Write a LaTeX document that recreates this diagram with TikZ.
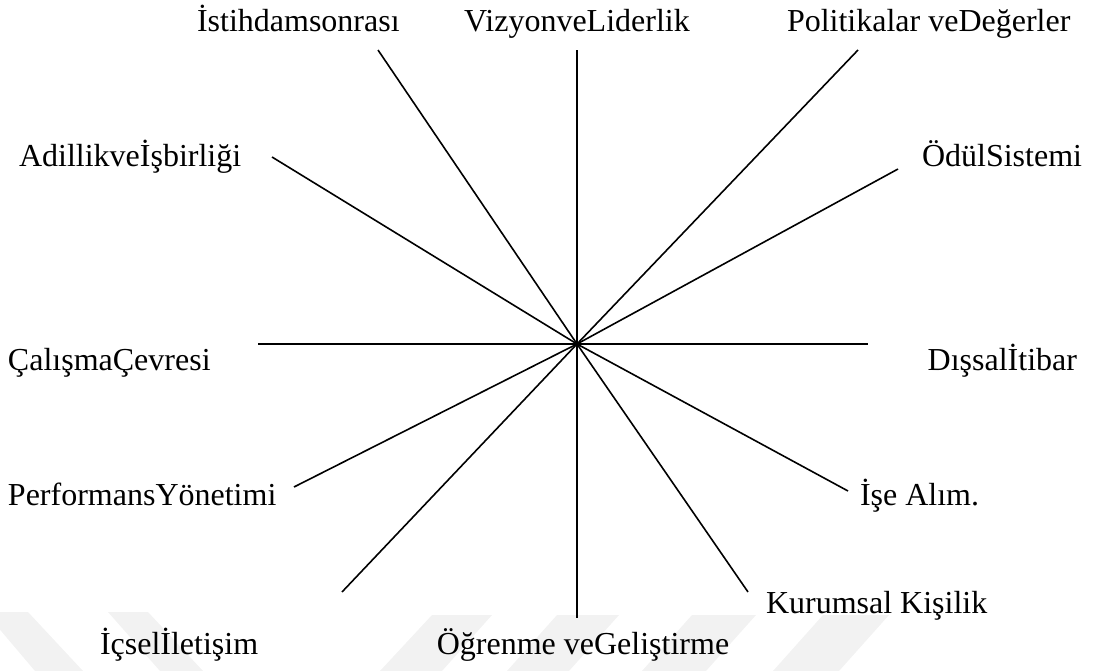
\documentclass[tikz,border=0pt]{standalone}
\usepackage{fontspec}
\setmainfont{Liberation Serif}
\begin{document}
\begin{tikzpicture}[x=1pt,y=-1pt,
  spoke/.style={line width=1.6pt, black, line cap=butt},
  lbl/.style={font=\fontsize{32}{36}\selectfont, inner sep=0pt, outer sep=0pt},
  wmband/.style={fill=black!5, draw=none}]
\useasboundingbox (0,0) rectangle (1094,671);

% faint chevron bands along the bottom edge
\begin{scope}
  \clip (0,0) rectangle (1094,671);
  \fill[wmband] (-15,612) -- (28,612) -- (83,671) -- (35,671) -- cycle;
  \fill[wmband] (108,612) -- (148,612) -- (203,671) -- (160,671) -- cycle;
  \fill[wmband] (432,615) -- (492,615) -- (442,671) -- (380,671) -- cycle;
  \fill[wmband] (557,615) -- (619,615) -- (569,671) -- (507,671) -- cycle;
  \fill[wmband] (692,615) -- (756,615) -- (706,671) -- (642,671) -- cycle;
  \fill[wmband] (823,615) -- (889,615) -- (839,671) -- (773,671) -- cycle;
\end{scope}

% hub and spoke ends
\coordinate (c) at (577,344);
\coordinate (eVizyon) at (577,50);
\coordinate (eIstihdam) at (378,50);
\coordinate (ePolitika) at (858,50);
\coordinate (eOdul) at (898,169);
\coordinate (eAdillik) at (272,157);
\coordinate (eCalisma) at (258,344);
\coordinate (eDissal) at (868,344);
\coordinate (ePerformans) at (294,487);
\coordinate (eIsealim) at (848,491);
\coordinate (eIcsel) at (342,592);
\coordinate (eKurumsal) at (748,592);
\coordinate (eOgrenme) at (577,618);

\foreach \e in {eVizyon,eIstihdam,ePolitika,eOdul,eAdillik,eCalisma,eDissal,
                ePerformans,eIsealim,eIcsel,eKurumsal,eOgrenme}
  \draw[spoke] (c) -- (\e);
\fill (c) circle (2.4);

% labels
\node[lbl, anchor=base west] (istihdam) at (197,32) {İstihdamsonrası};
\node[lbl, anchor=base] (vizyon) at (577,32) {VizyonveLiderlik};
\node[lbl, anchor=base west] (politika) at (787,32) {Politikalar veDeğerler};
\node[lbl, anchor=base west] (adillik) at (19,167) {Adillikveİşbirliği};
\node[lbl, anchor=base west] (odul) at (922,167) {ÖdülSistemi};
\node[lbl, anchor=base west] (calisma) at (8,370) {ÇalışmaÇevresi};
\node[lbl, anchor=base east] (dissal) at (1077,370) {Dışsalİtibar};
\node[lbl, anchor=base west] (performans) at (8,505) {PerformansYönetimi};
\node[lbl, anchor=base west] (isealim) at (860,505) {İşe Alım.};
\node[lbl, anchor=base west] (kurumsal) at (766,613) {Kurumsal Kişilik};
\node[lbl, anchor=base west] (icsel) at (100,654) {İçselİletişim};
\node[lbl, anchor=base] (ogrenme) at (583,654) {Öğrenme veGeliştirme};
\end{tikzpicture}
\end{document}
